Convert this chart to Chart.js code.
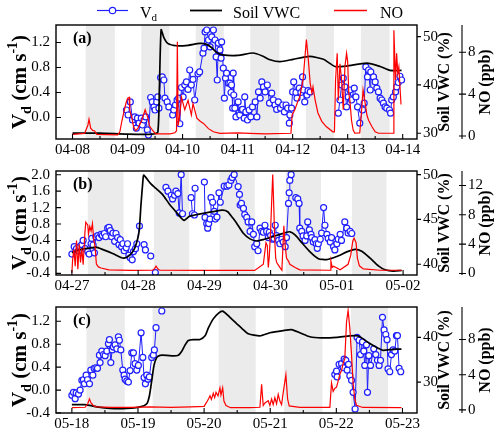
<!DOCTYPE html>
<html>
<head>
<meta charset="utf-8">
<script src="https://cdn.jsdelivr.net/npm/chart.js@4.4.1/dist/chart.umd.min.js"></script>
<style>
body { margin: 0; background: #fff; }
#wrap { position: relative; width: 500px; height: 431px; }
canvas { position: absolute; left: 0; }
</style>
</head>
<body>
<div id="wrap">
<canvas id="pa" width="500" height="156" style="top:0px"></canvas>
<canvas id="pb" width="500" height="136" style="top:156px"></canvas>
<canvas id="pc" width="500" height="139" style="top:292px"></canvas>
</div>
<script>
// x values are days since the first labelled date, 00:00

// ---- panel (a) ----
const datesA = ['04-08', '04-09', '04-10', '04-11', '04-12', '04-13', '04-14'];
const bandsA = [[0.24, 0.77], [1.25, 1.76], [2.24, 2.75], [3.23, 3.76], [4.24, 4.75], [5.24, 5.76]];
const vdA = [
  [0.98, 0.12], [1.01, 0.04], [1.05, 0.25], [1.09, -0.04], [1.13, 0.01], [1.16, -0.17], [1.18, -0.01],
  [1.21, -0.09], [1.25, -0.01], [1.27, -0.12], [1.30, -0.04], [1.33, 0.01], [1.36, -0.20], [1.38, -0.28],
  [1.42, 0.32], [1.45, 0.25], [1.48, 0.17], [1.50, 0.12], [1.53, 0.25], [1.55, 0.33], [1.57, 0.15],
  [1.60, 0.64], [1.63, 0.65], [1.66, 0.60], [1.68, 0.31], [1.72, 0.25], [1.75, 0.17], [1.82, 0.04],
  [1.84, 0.12], [1.87, 0.20], [1.90, 0.28], [1.93, 0.31], [1.95, -0.10], [1.98, 0.48], [2.01, 0.33],
  [2.04, 0.52], [2.07, 0.57], [2.10, 0.45], [2.13, 0.76], [2.16, 0.52], [2.19, 0.61], [2.22, 0.28],
  [2.28, 0.70], [2.31, 0.73], [2.37, 1.03], [2.39, 1.11], [2.41, 1.37], [2.44, 1.40], [2.47, 1.24],
  [2.50, 1.13], [2.53, 1.29], [2.56, 1.40], [2.59, 1.24], [2.61, 0.97], [2.63, 0.60], [2.65, 1.19],
  [2.68, 1.08], [2.70, 0.95], [2.71, 1.21], [2.74, 0.79], [2.76, 0.31], [2.78, 0.63], [2.80, 0.71],
  [2.83, 0.55], [2.86, 0.55], [2.88, 0.40], [2.89, 0.52], [2.91, 0.15], [2.92, 0.71], [2.93, 0.36],
  [2.95, 0.15], [2.97, 0.01], [3.01, 0.25], [3.04, 0.04], [3.07, 0.12], [3.09, 0.13], [3.12, -0.01],
  [3.13, 0.33], [3.15, 0.09], [3.18, -0.04], [3.21, 0.12], [3.24, 0.01], [3.27, 0.17], [3.32, 0.25],
  [3.35, 0.01], [3.38, 0.41], [3.41, 0.31], [3.44, 0.57], [3.47, 0.49], [3.50, 0.41], [3.54, 0.52],
  [3.58, 0.23], [3.62, 0.39], [3.65, 0.28], [3.68, 0.20], [3.71, 0.13], [3.74, 0.25], [3.78, 0.15],
  [3.82, 0.20], [3.85, 0.09], [3.88, 0.20], [3.91, 0.15], [3.94, -0.09], [3.95, 0.04], [3.98, 0.15],
  [4.00, 0.41], [4.02, 0.57], [4.06, 0.40], [4.08, 0.31], [4.12, 0.47], [4.15, 0.40], [4.18, 0.65],
  [4.19, 0.44], [4.22, 0.25], [4.26, 0.36], [4.28, 0.43], [4.32, 0.41], [4.55, null],
  [4.83, 0.07], [4.86, 0.28], [4.89, 0.52], [4.92, 0.63], [4.95, 0.49], [4.98, 0.17], [5.01, 0.33],
  [5.04, 0.44], [5.07, 0.28], [5.12, 0.47], [5.15, 0.33], [5.18, 0.17], [5.22, -0.09], [5.27, 0.12],
  [5.30, 0.23], [5.33, 0.81], [5.36, 0.65], [5.38, 0.76], [5.41, 0.44], [5.42, 0.73], [5.47, 0.65],
  [5.50, 0.57], [5.53, 0.47], [5.56, 0.41], [5.59, 0.31], [5.62, 0.28], [5.65, 0.23], [5.68, 0.17],
  [5.71, 0.15], [5.76, 0.12], [5.78, 0.07], [5.80, 0.28], [5.83, 0.33], [5.87, 0.41], [5.89, 0.49],
  [5.92, 0.56], [5.95, 0.66], [5.98, 0.60]
];
const vwcA = [
  [0, 30.0], [0.5, 30.0], [1.0, 29.8], [1.45, 29.8], [1.55, 30.2], [1.58, 40.0], [1.61, 51.4],
  [1.66, 49.8], [1.73, 48.6], [1.89, 48.1], [2.10, 48.2], [2.31, 48.6], [2.41, 48.5], [2.52, 47.8],
  [2.62, 46.7], [2.73, 46.2], [3.00, 46.1], [3.28, 46.6], [3.45, 46.0], [3.59, 45.2], [3.77, 44.8],
  [4.01, 45.3], [4.31, 45.9], [4.56, 45.3], [4.77, 43.8], [4.98, 43.9], [5.35, 44.5], [5.59, 43.8],
  [5.77, 43.0], [5.98, 43.0]
];
const noA = [
  [0.00, 0.15], [0.22, 0.25], [0.28, 1.05], [0.30, 1.6], [0.33, 0.75], [0.37, 0.5], [0.40, 0.5],
  [0.44, 0.15], [0.82, 0.1], [0.86, 0.4], [0.90, 1.5], [0.93, 2.2], [0.97, 3.1], [1.00, 3.6],
  [1.03, 3.7], [1.04, 2.5], [1.08, 1.7], [1.11, 0.85], [1.15, 0.5], [1.19, 0.75], [1.26, 1.5],
  [1.32, 2.5], [1.37, 1.7], [1.40, 0.95], [1.46, 0.5], [1.51, 0.2], [1.77, 0.2], [1.86, 0.3],
  [1.89, 0.5], [1.905, 9.0], [1.92, 1.0], [1.95, 2.0], [1.98, 3.7], [2.04, 2.5], [2.10, 3.4],
  [2.16, 2.0], [2.19, 3.1], [2.22, 2.5], [2.26, 1.7], [2.32, 1.4], [2.38, 1.2], [2.47, 0.7],
  [2.56, 0.4], [2.68, 0.25], [3.0, 0.3], [3.22, 0.25], [3.5, 0.2], [3.97, 0.26], [3.99, 2.0],
  [4.04, 2.5], [4.10, 3.4], [4.13, 3.75], [4.19, 5.35], [4.22, 7.3], [4.25, 9.2], [4.28, 7.6],
  [4.32, 5.0], [4.35, 4.1], [4.37, 4.7], [4.41, 3.4], [4.46, 2.2], [4.53, 1.4], [4.61, 0.9],
  [4.73, 0.4], [4.76, 0.4], [4.78, 5.35], [4.81, 7.9], [4.83, 3.4], [4.86, 6.9], [4.89, 5.35],
  [4.92, 2.5], [4.95, 6.6], [4.98, 7.9], [5.00, 7.1], [5.02, 4.1], [5.04, 3.4], [5.07, 1.5],
  [5.10, 0.57], [5.13, 0.26], [5.22, 0.3], [5.25, 2.2], [5.28, 4.4], [5.31, 3.4], [5.35, 2.0],
  [5.38, 1.5], [5.44, 0.9], [5.50, 0.4], [5.56, 0.26], [5.83, 0.26], [5.84, 10.1], [5.87, 5.35],
  [5.89, 7.9], [5.91, 6.0], [5.93, 6.6], [5.95, 4.7], [5.97, 3.0]
];
const vdTicksA = [0, 0.4, 0.8, 1.2];
const vwcTicksA = [30, 40, 50];
const noTicksA = [0, 4, 8];

// ---- panel (b) ----
const datesB = ['04-27', '04-28', '04-29', '04-30', '05-01', '05-02'];
const bandsB = [[0.24, 0.78], [1.24, 1.77], [2.23, 2.76], [3.23, 3.76], [4.23, 4.75]];
const vdB = [
  [0.00, 0.07], [0.035, 0.25], [0.07, 0.20], [0.10, 0.15], [0.12, 0.25], [0.15, 0.30], [0.17, 0.40],
  [0.20, 0.20], [0.24, 0.13], [0.26, 0.07], [0.29, 0.32], [0.30, 0.45], [0.32, 0.29], [0.34, 0.10],
  [0.36, 0.49], [0.39, 0.52], [0.41, 0.47], [0.44, 0.55], [0.46, 0.52], [0.49, 0.57], [0.51, 0.49],
  [0.54, 0.70], [0.56, 0.72], [0.58, 0.64], [0.60, 0.49], [0.62, 0.58], [0.645, 0.38], [0.665, 0.57],
  [0.69, 0.47], [0.71, 0.30], [0.73, 0.42], [0.75, 0.25], [0.77, 0.32], [0.79, 0.15], [0.82, 0.22],
  [0.84, 0.32], [0.86, 0.04], [0.88, -0.02], [0.91, -0.07], [0.93, 0.13], [0.96, 0.20], [0.98, 0.32],
  [1.02, 0.75], [1.05, null], [1.09, 0.30], [1.11, 0.17], [1.15, null], [1.19, 0.02], [1.22, null],
  [1.26, -0.38], [1.34, null],
  [1.42, 1.69], [1.45, 1.60], [1.50, 1.50], [1.52, 1.41], [1.55, 1.50], [1.57, 1.60], [1.60, 1.54],
  [1.62, 1.07], [1.65, 2.00], [1.67, 1.05], [1.73, null], [1.80, 1.44], [1.82, 1.05], [1.85, 1.02],
  [1.86, 1.67], [1.93, null], [2.00, 1.82], [2.01, 0.96], [2.035, 0.81], [2.05, 0.70], [2.065, 0.81],
  [2.085, 0.92], [2.10, 1.44], [2.125, 1.33], [2.15, 1.11], [2.165, 0.92], [2.19, 0.97], [2.22, 1.56],
  [2.24, 1.33], [2.30, 1.72], [2.34, 1.72], [2.37, 1.75], [2.40, 1.86], [2.42, 1.93], [2.45, 2.00],
  [2.51, 1.71], [2.53, 1.52], [2.54, 1.26], [2.56, 1.30], [2.59, 1.18], [2.61, 1.03], [2.64, 0.96],
  [2.66, 0.85], [2.69, 0.62], [2.715, 0.85], [2.74, 0.55], [2.76, 0.25], [2.79, 0.32], [2.81, 0.15],
  [2.84, 0.70], [2.865, 0.62], [2.89, 0.60], [2.915, 0.77], [2.94, 0.62], [2.965, 0.47], [2.98, 0.60],
  [3.00, 0.52], [3.03, 0.43], [3.05, 0.45], [3.07, 0.77], [3.09, 0.52], [3.12, 0.40], [3.14, 0.32],
  [3.17, 0.43], [3.19, 0.36], [3.22, 0.25], [3.24, 0.47], [3.27, 1.30], [3.28, 1.56], [3.29, 1.86],
  [3.31, 2.00], [3.35, null], [3.38, 1.44], [3.41, 1.41], [3.43, 1.30], [3.44, 0.70], [3.47, 0.62],
  [3.49, 0.51], [3.52, 0.40], [3.545, 0.51], [3.56, 0.85], [3.585, 0.66], [3.61, 0.55], [3.62, 0.47],
  [3.645, 0.36], [3.67, 0.42], [3.69, 0.32], [3.705, 0.21], [3.72, 0.32], [3.75, 0.43], [3.77, 0.58],
  [3.80, 1.20], [3.82, 0.77], [3.85, 0.55], [3.87, 0.45], [3.90, 0.36], [3.92, 0.47], [3.95, 0.25],
  [3.97, 0.17], [4.00, 0.32], [4.02, 0.43], [4.05, 0.55], [4.07, 0.40], [4.12, 0.85], [4.15, 0.70],
  [4.17, 0.58], [4.20, 0.62], [4.225, 0.57]
];
const vwcB = [
  [0.00, 41.3], [0.14, 41.66], [0.26, 41.79], [0.36, 41.9], [0.46, 41.66], [0.615, 41.2], [0.74, 40.76],
  [0.79, 40.68], [0.866, 40.96], [0.94, 41.66], [0.99, 42.75], [1.017, 43.79], [1.042, 46.55],
  [1.068, 48.96], [1.083, 49.94], [1.118, 49.66], [1.193, 48.96], [1.27, 48.45], [1.37, 47.76],
  [1.47, 46.73], [1.57, 45.86], [1.647, 45.18], [1.696, 44.9], [1.772, 45.34], [1.923, 45.59],
  [2.125, 45.86], [2.276, 46.04], [2.352, 45.86], [2.427, 45.18], [2.485, 44.6], [2.588, 43.45],
  [2.689, 42.83], [2.79, 42.59], [2.89, 42.75], [3.041, 43.1], [3.192, 43.45], [3.293, 43.62],
  [3.369, 43.27], [3.47, 42.41], [3.595, 41.38], [3.721, 40.62], [3.847, 40.52], [3.998, 40.86],
  [4.15, 41.38], [4.275, 41.66], [4.376, 41.45], [4.502, 40.68], [4.627, 39.82], [4.728, 39.38],
  [4.854, 39.23], [4.98, 39.3]
];
const noB = [
  [0.00, 0.1], [0.01, 1.8], [0.03, 3.3], [0.05, 1.0], [0.07, 4.5], [0.09, 0.6], [0.11, 4.0],
  [0.13, 1.5], [0.15, 3.4], [0.17, 1.2], [0.196, 5.5], [0.21, 7.0], [0.24, 6.6], [0.25, 5.4],
  [0.27, 6.4], [0.29, 5.8], [0.31, 6.8], [0.33, 4.6], [0.35, 3.6], [0.37, 1.3], [0.40, 0.9],
  [0.44, 0.75], [0.56, 0.5], [0.88, 0.42], [1.22, 0.45], [1.25, 0.7], [1.27, 1.0], [1.30, 0.6],
  [1.33, 0.45], [1.93, 0.42], [2.76, 0.42], [2.89, 1.26], [2.93, 4.2], [2.95, 3.8], [2.965, 0.83],
  [2.98, 2.3], [3.00, 5.9], [3.017, 10.1], [3.032, 13.5], [3.047, 9.3], [3.062, 4.6], [3.077, 2.1],
  [3.092, 1.5], [3.14, 0.83], [3.17, 0.45], [3.20, 6.5], [3.22, 3.8], [3.24, 2.1], [3.27, 1.7],
  [3.29, 1.26], [3.37, 0.83], [3.44, 0.5], [3.90, 0.45], [3.91, 1.7], [3.93, 0.83], [3.95, 1.0],
  [4.05, 0.5], [4.17, 1.26], [4.21, 2.5], [4.24, 4.4], [4.26, 4.8], [4.29, 4.2], [4.31, 2.1],
  [4.34, 1.05], [4.40, 0.63], [4.65, 0.45], [4.98, 0.45]
];
const vdTicksB = [-0.4, 0, 0.4, 0.8, 1.2, 1.6, 2.0];
const vwcTicksB = [40, 45, 50];
const noTicksB = [0, 4, 8, 12];

// ---- panel (c) ----
const datesC = ['05-18', '05-19', '05-20', '05-21', '05-22', '05-23'];
const bandsC = [[0.22, 0.80], [1.22, 1.80], [2.22, 2.78], [3.21, 3.79], [4.22, 4.78]];
const vdC = [
  [0.00, -0.09], [0.024, -0.04], [0.05, -0.15], [0.065, -0.05], [0.10, -0.07], [0.125, 0.00],
  [0.151, 0.17], [0.175, 0.18], [0.19, 0.11], [0.216, 0.26], [0.236, 0.18], [0.266, 0.11],
  [0.287, 0.35], [0.317, 0.26], [0.337, 0.38], [0.363, 0.39], [0.387, 0.38], [0.417, 0.61],
  [0.427, 0.48], [0.453, 0.68], [0.477, 0.62], [0.503, 0.60], [0.529, 0.68], [0.553, 0.81],
  [0.568, 0.88], [0.589, 0.48], [0.609, 0.70], [0.628, 0.75], [0.654, 0.79], [0.68, 0.72],
  [0.704, 0.93], [0.719, 0.87], [0.74, 0.70], [0.77, 0.35], [0.79, 0.26], [0.805, 0.19],
  [0.831, 0.16], [0.855, 0.14], [0.881, 0.34], [0.906, 0.65], [0.931, 0.65], [0.956, 0.46],
  [0.982, 0.35], [1.006, 0.43], [1.047, 1.00], [1.073, 0.57], [1.092, 0.22], [1.112, 0.11],
  [1.133, 0.26], [1.153, 0.19], [1.172, 0.23], [1.208, 0.57], [1.233, 0.61], [1.248, 0.70],
  [1.273, 1.09], [1.32, null], [1.36, 1.38], [2.0, null],
  [3.977, 0.27], [4.003, 0.33], [4.012, 0.23], [4.042, 0.45], [4.079, 0.46], [4.103, 0.39],
  [4.118, 0.54], [4.143, 0.52], [4.163, 0.35], [4.184, 0.45], [4.204, 0.25], [4.23, 0.17],
  [4.254, -0.04], [4.284, -0.33], [4.314, 0.92], [4.344, 0.87], [4.366, 0.62], [4.396, 0.84],
  [4.415, 0.68], [4.43, 0.43], [4.456, 0.79], [4.471, -0.04], [4.491, 0.60], [4.517, 0.43],
  [4.566, 0.72], [4.597, 0.62], [4.622, 0.52], [4.647, 0.43], [4.668, 0.52], [4.698, 1.27],
  [4.722, 1.05], [4.748, 0.97], [4.767, 0.88], [4.782, 0.37], [4.808, 0.32], [4.834, 0.62],
  [4.858, 0.70], [4.884, 0.68], [4.909, 0.95], [4.924, 0.95], [4.949, 0.38], [4.974, 0.32]
];
const vwcC = [
  [0.00, 24.97], [0.201, 24.97], [0.378, 24.47], [0.579, 24.14], [0.831, 24.14], [1.032, 24.47],
  [1.133, 25.18], [1.172, 26.9], [1.208, 30.35], [1.243, 33.79], [1.284, 35.53], [1.334, 36.0],
  [1.435, 36.0], [1.535, 35.86], [1.61, 36.0], [1.662, 36.9], [1.711, 38.28], [1.761, 39.32],
  [1.837, 39.52], [1.938, 39.52], [2.014, 40.35], [2.063, 42.07], [2.139, 44.14], [2.215, 45.38],
  [2.281, 45.88], [2.391, 44.49], [2.492, 43.1], [2.592, 41.74], [2.668, 40.83], [2.844, 40.35],
  [2.995, 41.04], [3.196, 41.53], [3.323, 41.74], [3.449, 41.04], [3.6, 40.14], [3.776, 39.88],
  [4.003, 40.0], [4.204, 40.35], [4.329, 40.35], [4.405, 39.67], [4.506, 38.63], [4.631, 37.6],
  [4.707, 37.1], [4.808, 37.25], [4.909, 37.39], [4.985, 37.39]
];
const noC = [
  [0.00, 0.25], [0.20, 0.3], [0.24, 0.7], [0.266, 1.24], [0.29, 0.8], [0.302, 0.7], [0.33, 0.45],
  [0.378, 0.35], [0.6, 0.3], [0.9, 0.3], [1.183, 0.35], [1.5, 0.3], [1.8, 0.35], [2.0, 0.4],
  [2.039, 0.88], [2.07, 1.3], [2.089, 1.6], [2.11, 1.2], [2.139, 1.9], [2.16, 1.4], [2.18, 2.0],
  [2.21, 1.6], [2.24, 2.5], [2.255, 1.7], [2.281, 2.5], [2.30, 1.0], [2.331, 0.5], [2.4, 0.25],
  [2.693, 0.25], [2.844, 0.3], [2.87, 2.9], [2.894, 0.5], [2.92, 0.8], [2.97, 1.05], [2.995, 0.5],
  [3.021, 1.24], [3.045, 0.6], [3.07, 1.4], [3.096, 0.7], [3.121, 1.77], [3.146, 1.0], [3.172, 0.6],
  [3.196, 1.94], [3.237, 4.0], [3.263, 1.24], [3.287, 0.45], [3.449, 0.3], [3.902, 0.3],
  [3.927, 3.07], [3.952, 2.1], [3.977, 2.46], [4.003, 2.6], [4.027, 3.28], [4.053, 4.05],
  [4.079, 4.47], [4.103, 5.3], [4.128, 5.8], [4.154, 10.0], [4.178, 11.3], [4.204, 9.3],
  [4.23, 6.2], [4.254, 3.0], [4.279, 1.24], [4.305, 0.53], [4.4, 0.28], [4.985, 0.25]
];
const vdTicksC = [-0.4, 0, 0.4, 0.8, 1.2];
const vwcTicksC = [30, 40];
const noTicksC = [0, 4, 8];

const FONT = "'Liberation Serif', 'Times New Roman', serif";
const BLUE = '#1f1fff';
const RED = '#ff0000';
const BAND = '#ebebeb';

Chart.defaults.font.family = FONT;
Chart.defaults.font.size = 15;
Chart.defaults.color = '#000';

const toPts = arr => arr.map(([x, y]) => ({x: x, y: y}));

// text drawn turned 90 degrees, baseline at bx, centred on cy
function sideText(ctx, parts, bx, cy) {
  ctx.save();
  ctx.translate(bx, cy);
  ctx.rotate(-Math.PI / 2);
  ctx.fillStyle = '#000';
  ctx.textBaseline = 'alphabetic';
  let w = 0;
  parts.forEach(p => { ctx.font = p.f; p.w = ctx.measureText(p.t).width; w += p.w; });
  let x = -w / 2;
  parts.forEach(p => { ctx.font = p.f; ctx.fillText(p.t, x, p.dy || 0); x += p.w; });
  ctx.restore();
}

function drawLegend(ctx) {
  ctx.save();
  ctx.lineWidth = 1.2;
  ctx.strokeStyle = BLUE;
  ctx.beginPath(); ctx.moveTo(97, 10.5); ctx.lineTo(128, 10.5); ctx.stroke();
  ctx.beginPath(); ctx.arc(112.5, 10.5, 3.2, 0, Math.PI * 2);
  ctx.fillStyle = '#fff'; ctx.fill(); ctx.stroke();
  ctx.lineWidth = 1.8; ctx.strokeStyle = '#000';
  ctx.beginPath(); ctx.moveTo(190, 10.5); ctx.lineTo(222, 10.5); ctx.stroke();
  ctx.lineWidth = 1.4; ctx.strokeStyle = RED;
  ctx.beginPath(); ctx.moveTo(334, 10.5); ctx.lineTo(367, 10.5); ctx.stroke();
  ctx.fillStyle = '#000';
  ctx.textBaseline = 'alphabetic';
  ctx.font = '16px ' + FONT;
  ctx.fillText('V', 140, 18);
  const vw = ctx.measureText('V').width;
  ctx.font = '11px ' + FONT;
  ctx.fillText('d', 140 + vw, 21);
  ctx.font = '16px ' + FONT;
  ctx.fillText('Soil VWC', 233, 18);
  ctx.fillText('NO', 380, 18);
  ctx.restore();
}

const decor = {
  id: 'decor',
  beforeDatasetsDraw(chart, args, o) {
    const {ctx, chartArea: a, scales: {x}} = chart;
    ctx.save();
    ctx.fillStyle = BAND;
    o.bands.forEach(([s, e]) => {
      const x1 = x.getPixelForValue(s), x2 = x.getPixelForValue(e);
      ctx.fillRect(x1, a.top, x2 - x1, a.bottom - a.top);
    });
    ctx.restore();
  },
  afterDraw(chart, args, o) {
    const {ctx, chartArea: a, scales} = chart;
    const x = scales.x, yl = scales.yVd, yr = scales.yVWC, yn = scales.yNO;
    ctx.save();
    ctx.strokeStyle = '#000';
    ctx.lineWidth = 1.4;
    ctx.strokeRect(a.left, a.top, a.right - a.left, a.bottom - a.top);
    ctx.lineWidth = 1.1;
    ctx.beginPath();
    x.ticks.forEach(t => {
      const px = x.getPixelForValue(t.value);
      ctx.moveTo(px, a.bottom); ctx.lineTo(px, a.bottom - 5);
      const pm = x.getPixelForValue(t.value + 0.5);
      if (pm < a.right) { ctx.moveTo(pm, a.bottom); ctx.lineTo(pm, a.bottom - 3); }
    });
    yl.ticks.forEach(t => {
      const py = yl.getPixelForValue(t.value);
      ctx.moveTo(a.left, py); ctx.lineTo(a.left + 5, py);
    });
    yr.ticks.forEach(t => {
      const py = yr.getPixelForValue(t.value);
      ctx.moveTo(a.right, py); ctx.lineTo(a.right + 4, py);
    });
    ctx.moveTo(yn.left, a.top); ctx.lineTo(yn.left, a.bottom);
    yn.ticks.forEach(t => {
      const py = yn.getPixelForValue(t.value);
      ctx.moveTo(yn.left - 3, py); ctx.lineTo(yn.left + 4, py);
    });
    ctx.stroke();

    const cy = (a.top + a.bottom) / 2;
    const big = 'bold 21px ' + FONT, small = 'bold 14px ' + FONT, mid = 'bold 16px ' + FONT;
    sideText(ctx, [
      {t: 'V', f: big}, {t: 'd', f: small, dy: 5}, {t: ' (cm s', f: big},
      {t: '-1', f: small, dy: -9}, {t: ')', f: big}
    ], 26, cy);
    sideText(ctx, [{t: 'Soil VWC (%)', f: mid}], 449, cy);
    sideText(ctx, [{t: 'NO (ppb)', f: mid}], 490, cy);

    ctx.fillStyle = '#000';
    ctx.font = 'bold 16px ' + FONT;
    ctx.textBaseline = 'middle';
    ctx.fillText(o.label, 73, a.top + 14);
    if (o.legend) drawLegend(ctx);
    ctx.restore();
  }
};

function yAxis(pos, weight, range, ticks, width, digits) {
  return {
    position: pos,
    weight: weight,
    min: range[0],
    max: range[1],
    grid: {display: false, drawTicks: false},
    border: {display: false},
    ticks: {
      autoSkip: false,
      padding: 6,
      font: {size: 15},
      callback: v => digits ? v.toFixed(digits) : String(v)
    },
    afterBuildTicks: s => { s.ticks = ticks.map(v => ({value: v})); },
    afterFit: s => { s.width = width; }
  };
}

function makePanel(id, p) {
  return new Chart(document.getElementById(id), {
    type: 'line',
    data: {
      datasets: [
        {data: toPts(p.no), yAxisID: 'yNO', borderColor: RED, borderWidth: 1.2, pointRadius: 0, tension: 0},
        {data: toPts(p.vwc), yAxisID: 'yVWC', borderColor: '#000', borderWidth: 1.7, pointRadius: 0, tension: 0.2},
        {data: toPts(p.vd), yAxisID: 'yVd', borderColor: BLUE, borderWidth: 1, pointRadius: 3,
          pointBackgroundColor: '#fff', pointBorderColor: BLUE, pointBorderWidth: 1.2, tension: 0}
      ]
    },
    options: {
      responsive: false,
      animation: false,
      events: [],
      devicePixelRatio: 1,
      layout: {padding: {top: p.top, left: 0, right: 0, bottom: 0}},
      plugins: {
        legend: {display: false},
        tooltip: {enabled: false},
        decor: {bands: p.bands, label: p.label, legend: p.legend}
      },
      scales: {
        x: {
          type: 'linear',
          min: p.xr[0],
          max: p.xr[1],
          grid: {display: false, drawTicks: false},
          border: {display: false},
          ticks: {autoSkip: false, maxRotation: 0, padding: 2, font: {size: 15},
            callback: v => p.dates[Math.round(v)]},
          afterBuildTicks: s => { s.ticks = p.dates.map((d, i) => ({value: i})); },
          afterFit: s => { s.height = p.xh; }
        },
        yVd: yAxis('left', 0, p.vdR, p.vdT, 56, 1),
        yVWC: yAxis('right', 0, p.vwcR, p.vwcT, 45, 0),
        yNO: yAxis('right', 1, p.noR, p.noT, 38, 0)
      }
    },
    plugins: [decor]
  });
}

makePanel('pa', {
  dates: datesA, bands: bandsA, vd: vdA, vwc: vwcA, no: noA,
  xr: [-0.30, 6.26], vdR: [-0.344, 1.48], vwcR: [28.8, 52.4], noR: [-0.29, 10.6],
  vdT: vdTicksA, vwcT: vwcTicksA, noT: noTicksA,
  top: 25, xh: 17, label: '(a)', legend: true
});
makePanel('pb', {
  dates: datesB, bands: bandsB, vd: vdB, vwc: vwcB, no: noB,
  xr: [-0.24, 5.21], vdR: [-0.44, 2.09], vwcR: [38.8, 50.4], noR: [-0.2, 13.97],
  vdT: vdTicksB, vwcT: vwcTicksB, noT: noTicksB,
  top: 7, xh: 17, label: '(b)', legend: false
});
makePanel('pc', {
  dates: datesC, bands: bandsC, vd: vdC, vwc: vwcC, no: noC,
  xr: [-0.24, 5.22], vdR: [-0.40, 1.45], vwcR: [23.1, 46.8], noR: [-0.35, 11.7],
  vdT: vdTicksC, vwcT: vwcTicksC, noT: noTicksC,
  top: 7, xh: 18, label: '(c)', legend: false
});
</script>
</body>
</html>
